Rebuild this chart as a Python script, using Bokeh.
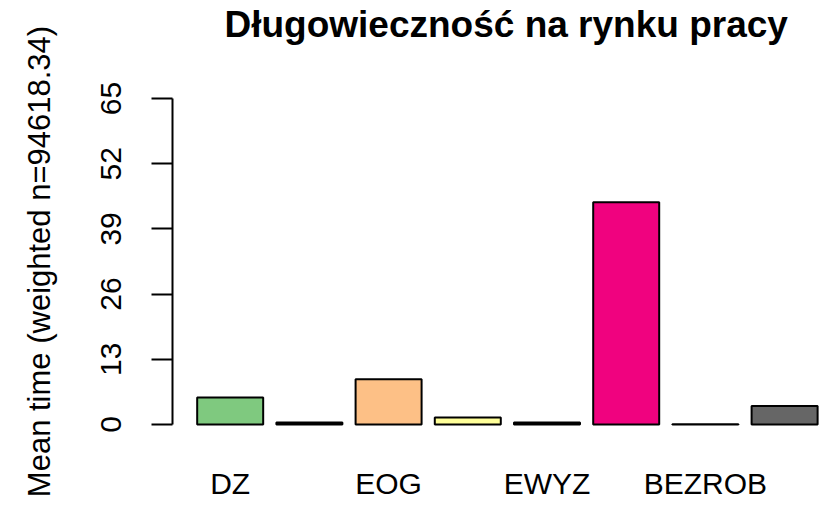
from bokeh.plotting import figure
from bokeh.models import Range1d, FixedTicker, ColumnDataSource, Title
from bokeh.embed import file_html
from bokeh.resources import INLINE

# ---- data ----
categories = ["DZ", "cat2", "EOG", "cat4", "EWYZ", "cat6", "BEZROB", "cat8"]
values = [5.4, 0.4, 9.0, 1.4, 0.4, 44.3, 0.05, 3.7]
colors = ["#7FC97F", "#BEAED4", "#FDC086", "#FFFF99", "#386CB0", "#F0027F", "#BF5B17", "#666666"]
shown_labels = {0: "DZ", 2: "EOG", 4: "EWYZ", 6: "BEZROB"}
y_ticks = [0, 13, 26, 39, 52, 65]
title_text = "Długowieczność na rynku pracy"
y_label = "Mean time (weighted n=94618.34)"

# R barplot layout: width 1, space 0.2
centers = [0.7 + 1.2 * i for i in range(len(values))]

FONT = "Liberation Sans"

p = figure(width=829, height=507, output_backend="svg", toolbar_location=None,
           x_range=Range1d(-0.174, 9.659), y_range=Range1d(-2.6, 67.6),
           min_border_left=172, min_border_right=8, min_border_top=85,
           min_border_bottom=70)
p.outline_line_color = None
p.grid.grid_line_color = None
p.background_fill_color = "white"
p.border_fill_color = "white"

src = ColumnDataSource(dict(x=centers, top=values, color=colors, cat=categories))
p.vbar(x="x", top="top", bottom=0, width=1.0, fill_color="color",
       line_color="black", line_width=2, source=src)

# title (an empty second line lifts it well above the bars, as in R)
p.title = Title(text=title_text + "\n", align="left", offset=52,
                vertical_align="bottom", standoff=0,
                text_font=FONT, text_font_size="37px", text_font_style="bold",
                text_color="black")

# y axis
yax = p.yaxis[0]
yax.ticker = FixedTicker(ticks=y_ticks)
yax.bounds = (0, 65)
yax.minor_tick_line_color = None
yax.major_tick_out = 21
yax.major_tick_in = 0
yax.major_tick_line_width = 2
yax.axis_line_width = 2
yax.axis_line_color = "black"
yax.major_tick_line_color = "black"
yax.major_label_orientation = "vertical"
yax.major_label_text_font = FONT
yax.major_label_text_font_size = "30px"
yax.major_label_text_color = "black"
yax.major_label_standoff = 30
yax.axis_label = y_label
yax.axis_label_text_font = FONT
yax.axis_label_text_font_size = "31px"
yax.axis_label_text_font_style = "normal"
yax.axis_label_text_color = "black"
yax.axis_label_standoff = 42

# x axis
xax = p.xaxis[0]
xax.ticker = FixedTicker(ticks=[centers[i] for i in shown_labels])
xax.major_label_overrides = {centers[i]: lab for i, lab in shown_labels.items()}
xax.axis_line_color = None
xax.major_tick_line_color = None
xax.minor_tick_line_color = None
xax.major_label_text_font = FONT
xax.major_label_text_font_size = "30px"
xax.major_label_text_color = "black"
xax.major_label_standoff = 23

open("out.html", "w").write(file_html(p, INLINE))
